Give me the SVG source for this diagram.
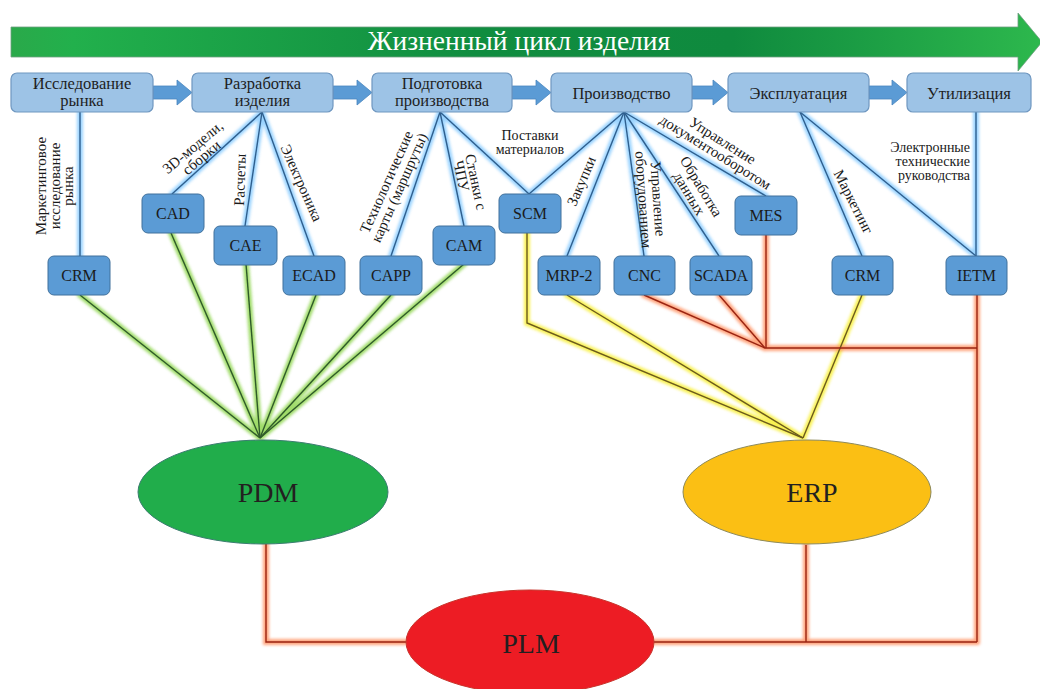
<svg xmlns="http://www.w3.org/2000/svg" xmlns:xlink="http://www.w3.org/1999/xlink" width="1040" height="689" viewBox="0 0 1040 689">
<defs>
  <linearGradient id="bannerGrad" x1="0" y1="0" x2="1" y2="0">
    <stop offset="0" stop-color="#2aa94a"/>
    <stop offset="0.06" stop-color="#22b04c"/>
    <stop offset="0.45" stop-color="#108d40"/>
    <stop offset="0.7" stop-color="#0f8a3e"/>
    <stop offset="1" stop-color="#2db84d"/>
  </linearGradient>
  <filter id="blur" x="-20%" y="-20%" width="140%" height="140%">
    <feGaussianBlur stdDeviation="1.8"/>
  </filter>
  <path id="b1" d="M80,112 V256"/>
  <path id="b2" d="M262,112 L172,194"/>
  <path id="b3" d="M262,112 L245,226"/>
  <path id="b4" d="M262,112 L314,256"/>
  <path id="b5" d="M440,112 L391,256"/>
  <path id="b6" d="M440,112 L464,226"/>
  <path id="b7" d="M440,112 L529,194"/>
  <path id="b8" d="M624,112 L529,194"/>
  <path id="b9" d="M624,112 L567,256"/>
  <path id="b10" d="M624,112 L644,256"/>
  <path id="b11" d="M624,112 L719,256"/>
  <path id="b12" d="M624,112 L766,196"/>
  <path id="b13" d="M800,112 L862,256"/>
  <path id="b14" d="M800,112 L976,256"/>
  <path id="b15" d="M976,112 V256"/>
  <path id="g1" d="M260,438 L80,295"/>
  <path id="g2" d="M260,438 L171,233"/>
  <path id="g3" d="M260,438 L246,264"/>
  <path id="g4" d="M260,438 L316,295"/>
  <path id="g5" d="M260,438 L391,295"/>
  <path id="g6" d="M260,438 L464,264"/>
  <path id="y1" d="M527,233 V323 L803,438"/>
  <path id="y2" d="M567,295 L803,438"/>
  <path id="y3" d="M862,295 L803,438"/>
  <path id="r1" d="M644,295 L765,348"/>
  <path id="r2" d="M719,295 L765,348"/>
  <path id="r3" d="M766,234 V348"/>
  <path id="r4" d="M765,348 H977"/>
  <path id="r5" d="M977,295 V642"/>
  <path id="r6" d="M266,544 V642 H406"/>
  <path id="r7" d="M654,642 H977"/>
  <path id="r8" d="M806,545 V642"/>
</defs>
<style>
  .serif { font-family: "Liberation Serif", "DejaVu Serif", serif; }
  .stage rect { fill: #9dc3e6; stroke: #6f97c0; stroke-width: 1.2; }
  .stage text { font-size: 16.5px; fill: #1e1e1e; text-anchor: middle; }
  .node rect { fill: #5b9bd5; stroke: #41719c; stroke-width: 1; }
  .node text { font-size: 16px; fill: #1a1a1a; text-anchor: middle; }
  .lbl { font-size: 15px; fill: #1a1a1a; }
  .sm { font-size: 14px; }
  .mid { text-anchor: middle; }
  .end { text-anchor: end; }
  .big { font-size: 28px; fill: #231f20; text-anchor: middle; }
  .glow { fill: none; filter: url(#blur); stroke-width: 6; stroke-linecap: round; }
  .line { fill: none; stroke-width: 1.4; }
  .sarrow { fill: #5b9bd5; stroke: #4a86bf; stroke-width: 0.8; }
</style>
<rect width="1040" height="689" fill="#ffffff"/>

<g id="banner">
  <path d="M11,27 H1018 V13 L1042,42 L1018,71 V57 H11 Z" fill="url(#bannerGrad)" stroke="#6f9f80" stroke-width="0.8"/>
  <text class="serif" x="519" y="50" font-size="27.5" fill="#ffffff" text-anchor="middle">Жизненный цикл изделия</text>
</g>

<g id="connectors">
  <g id="stage-arrows">
    <path class="sarrow" d="M153,86 H177 V80 L192,92.5 L177,105 V99 H153 Z"/>
    <path class="sarrow" d="M333,86 H357 V80 L372,92.5 L357,105 V99 H333 Z"/>
    <path class="sarrow" d="M512,86 H536 V80 L551,92.5 L536,105 V99 H512 Z"/>
    <path class="sarrow" d="M692,86 H713 V80 L728,92.5 L713,105 V99 H692 Z"/>
    <path class="sarrow" d="M869,86 H892 V80 L907,92.5 L892,105 V99 H869 Z"/>
  </g>
  <g class="glow" stroke="#8fcfff" opacity="0.9">
    <use xlink:href="#b1"/><use xlink:href="#b2"/><use xlink:href="#b3"/><use xlink:href="#b4"/><use xlink:href="#b5"/>
    <use xlink:href="#b6"/><use xlink:href="#b7"/><use xlink:href="#b8"/><use xlink:href="#b9"/><use xlink:href="#b10"/>
    <use xlink:href="#b11"/><use xlink:href="#b12"/><use xlink:href="#b13"/><use xlink:href="#b14"/><use xlink:href="#b15"/>
  </g>
  <g class="glow" stroke="#8fd650" opacity="0.85">
    <use xlink:href="#g1"/><use xlink:href="#g2"/><use xlink:href="#g3"/><use xlink:href="#g4"/><use xlink:href="#g5"/><use xlink:href="#g6"/>
  </g>
  <g class="glow" stroke="#f8f040" opacity="0.9">
    <use xlink:href="#y1"/><use xlink:href="#y2"/><use xlink:href="#y3"/>
  </g>
  <g class="glow" stroke="#ff9466" opacity="0.85">
    <use xlink:href="#r1"/><use xlink:href="#r2"/><use xlink:href="#r3"/><use xlink:href="#r4"/>
    <use xlink:href="#r5"/><use xlink:href="#r6"/><use xlink:href="#r7"/><use xlink:href="#r8"/>
  </g>
  <g class="line" stroke="#2f5f8e">
    <use xlink:href="#b1"/><use xlink:href="#b2"/><use xlink:href="#b3"/><use xlink:href="#b4"/><use xlink:href="#b5"/>
    <use xlink:href="#b6"/><use xlink:href="#b7"/><use xlink:href="#b8"/><use xlink:href="#b9"/><use xlink:href="#b10"/>
    <use xlink:href="#b11"/><use xlink:href="#b12"/><use xlink:href="#b13"/><use xlink:href="#b14"/><use xlink:href="#b15"/>
  </g>
  <g class="line" stroke="#2f5a2a">
    <use xlink:href="#g1"/><use xlink:href="#g2"/><use xlink:href="#g3"/><use xlink:href="#g4"/><use xlink:href="#g5"/><use xlink:href="#g6"/>
  </g>
  <g class="line" stroke="#6b5a1e">
    <use xlink:href="#y1"/><use xlink:href="#y2"/><use xlink:href="#y3"/>
  </g>
  <g class="line" stroke="#9a2412">
    <use xlink:href="#r1"/><use xlink:href="#r2"/><use xlink:href="#r3"/><use xlink:href="#r4"/>
    <use xlink:href="#r5"/><use xlink:href="#r6"/><use xlink:href="#r7"/><use xlink:href="#r8"/>
  </g>
</g>

<g id="labels" class="serif lbl">
  <text class="mid" transform="translate(46,186) rotate(-90)"><tspan x="0" y="0">Маркетинговое</tspan><tspan x="0" y="13.5">исследование</tspan><tspan x="0" y="27">рынка</tspan></text>
  <text class="mid" transform="translate(196,151) rotate(-40)"><tspan x="0" y="0">3D-модели,</tspan><tspan x="0" y="13.5">сборки</tspan></text>
  <text class="mid" transform="translate(245,180) rotate(-88)">Расчеты</text>
  <text class="mid" transform="translate(297,185) rotate(66)">Электроника</text>
  <text class="mid" transform="translate(391,184) rotate(-66)"><tspan x="0" y="0">Технологические</tspan><tspan x="0" y="14">карты (маршруты)</tspan></text>
  <text class="mid" transform="translate(471,183) rotate(78)"><tspan x="0" y="0">Станки с</tspan><tspan x="-9" y="13">ЧПУ</tspan></text>
  <text class="mid sm" x="530" y="140">Поставки</text>
  <text class="mid sm" x="530" y="154">материалов</text>
  <text class="mid" transform="translate(586,183) rotate(-67)">Закупки</text>
  <text class="mid" transform="translate(653,199) rotate(86)"><tspan x="0" y="0">Управление</tspan><tspan x="0" y="14.5">оборудованием</tspan></text>
  <text class="mid" transform="translate(697,189) rotate(59)"><tspan x="0" y="0">Обработка</tspan><tspan x="0" y="14">данных</tspan></text>
  <text class="mid" transform="translate(720,145) rotate(32)"><tspan x="0" y="0">Управление</tspan><tspan x="0" y="13.5">документооборотом</tspan></text>
  <text class="mid" transform="translate(849,204) rotate(63)">Маркетинг</text>
  <text class="end sm" x="970" y="152">Электронные</text>
  <text class="end sm" x="970" y="166">технические</text>
  <text class="end sm" x="970" y="180">руководства</text>
</g>

<g id="stage-1" class="stage serif"><rect x="11" y="73" width="142" height="39" rx="6"/><text x="82" y="88.5">Исследование</text><text x="82" y="106">рынка</text></g>
<g id="stage-2" class="stage serif"><rect x="192" y="73" width="141" height="39" rx="6"/><text x="262.5" y="88.5">Разработка</text><text x="262.5" y="106">изделия</text></g>
<g id="stage-3" class="stage serif"><rect x="372" y="73" width="140" height="39" rx="6"/><text x="442" y="88.5">Подготовка</text><text x="442" y="106">производства</text></g>
<g id="stage-4" class="stage serif"><rect x="551" y="73" width="141" height="39" rx="6"/><text x="621.5" y="98.5">Производство</text></g>
<g id="stage-5" class="stage serif"><rect x="728" y="73" width="141" height="39" rx="6"/><text x="798.5" y="98.5">Эксплуатация</text></g>
<g id="stage-6" class="stage serif"><rect x="907" y="73" width="124" height="39" rx="6"/><text x="969" y="98.5">Утилизация</text></g>

<g id="node-crm1" class="node serif"><rect x="48" y="256" width="62" height="39" rx="6"/><text x="79" y="280.5">CRM</text></g>
<g id="node-cad" class="node serif"><rect x="142" y="194" width="62" height="39" rx="6"/><text x="173" y="218.5">CAD</text></g>
<g id="node-cae" class="node serif"><rect x="214" y="226" width="63" height="39" rx="6"/><text x="245.5" y="250.5">CAE</text></g>
<g id="node-ecad" class="node serif"><rect x="283" y="256" width="62" height="39" rx="6"/><text x="314" y="280.5">ECAD</text></g>
<g id="node-capp" class="node serif"><rect x="360" y="256" width="62" height="39" rx="6"/><text x="391" y="280.5">CAPP</text></g>
<g id="node-cam" class="node serif"><rect x="433" y="226" width="62" height="39" rx="6"/><text x="464" y="250.5">CAM</text></g>
<g id="node-scm" class="node serif"><rect x="499" y="194" width="62" height="39" rx="6"/><text x="530" y="218.5">SCM</text></g>
<g id="node-mrp2" class="node serif"><rect x="538" y="256" width="62" height="39" rx="6"/><text x="569" y="280.5">MRP-2</text></g>
<g id="node-cnc" class="node serif"><rect x="614" y="256" width="61" height="39" rx="6"/><text x="644.5" y="280.5">CNC</text></g>
<g id="node-scada" class="node serif"><rect x="690" y="256" width="62" height="39" rx="6"/><text x="721" y="280.5">SCADA</text></g>
<g id="node-mes" class="node serif"><rect x="735" y="196" width="62" height="39" rx="6"/><text x="766" y="220.5">MES</text></g>
<g id="node-crm2" class="node serif"><rect x="832" y="256" width="61" height="39" rx="6"/><text x="862.5" y="280.5">CRM</text></g>
<g id="node-ietm" class="node serif"><rect x="946" y="256" width="61" height="39" rx="6"/><text x="976.5" y="280.5">IETM</text></g>

<g id="node-pdm" class="serif"><ellipse cx="263" cy="492" rx="125" ry="52" fill="#21ad4b" stroke="#3b7d70" stroke-width="1"/><text class="big" x="268" y="502">PDM</text></g>
<g id="node-erp" class="serif"><ellipse cx="807" cy="492" rx="124" ry="52" fill="#fbbf14" stroke="#8d8a5c" stroke-width="1"/><text class="big" x="812" y="502">ERP</text></g>
<g id="node-plm" class="serif"><ellipse cx="530" cy="642" rx="124" ry="52" fill="#ed1c24" stroke="#c8342c" stroke-width="1"/><text class="big" x="531" y="653">PLM</text></g>
</svg>
